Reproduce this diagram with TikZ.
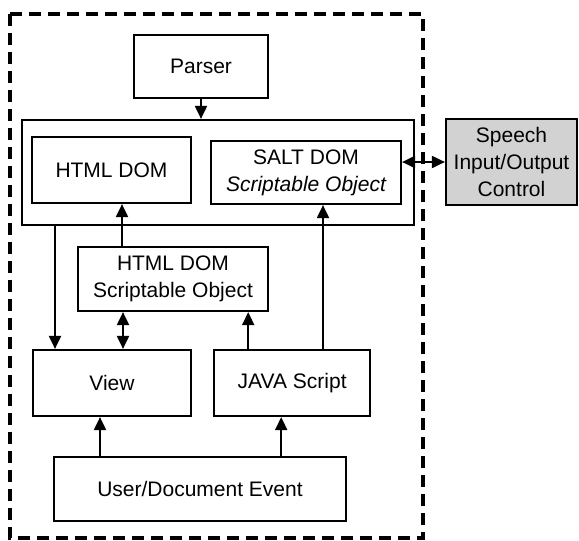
\documentclass[tikz,border=0pt]{standalone}
\usepackage{fontspec}
\setmainfont{Liberation Sans}
\usetikzlibrary{positioning, arrows.meta}
\definecolor{speechGray}{HTML}{D2D2D2}

\begin{document}
\begin{tikzpicture}[
        x=1pt, y=-1pt,
        font=\fontsize{21}{27}\selectfont,
        % Estilos de los nodos
        box/.style={
            rectangle,
            draw,
            line width=2.2pt,
            align=center,
            inner sep=0pt
        },
        % Estilos de las flechas
        arrow/.style={-{Triangle[length=13pt,width=12pt]}, line width=2pt},
        duplex/.style={{Triangle[length=13pt,width=12pt]}-{Triangle[length=13pt,width=12pt]}, line width=2pt},
        frame/.style={dash pattern=on 12pt off 7pt, line width=3.6pt}
    ]
    \useasboundingbox (0,0) rectangle (579,541);

    % -- Marco del navegador --
    \draw[frame] (10,14) rectangle (423,538);

    % -- Parser y contenedor DOM --
    \node[box, minimum width=134pt, minimum height=63pt] (parser) at (201,66.5) {Parser};
    \node[box, minimum width=392pt, minimum height=105pt] (dom) at (218,172.5) {};
    \node[box, minimum width=159pt, minimum height=66pt] (htmldom) at (111.5,170) {HTML DOM};
    \node[box, minimum width=190pt, minimum height=63pt] (saltdom) at (306,172.5) {SALT DOM\\\itshape Scriptable Object};

    \node[box, fill=speechGray, minimum width=131pt, minimum height=86pt] (speech) at (511.5,162) {Speech\\Input/Output\\Control};

    % -- Fila central --
    \node[box, minimum width=190pt, minimum height=64pt] (htmlobj) at (173,279) {HTML DOM\\Scriptable Object};
    \node[box, minimum width=158pt, minimum height=66pt] (view) at (112,383) {View};
    \node[box, minimum width=156pt, minimum height=66pt, right=21pt of view] (java) {JAVA Script};

    % -- Fila inferior --
    \node[box, minimum width=292pt, minimum height=64pt] (event) at (200,489) {User/Document Event};

    % -- Puntos de anclaje de las flechas --
    \coordinate (viewL) at ([xshift=-57pt]view.north);
    \coordinate (viewR) at ([xshift=11pt]view.north);
    \coordinate (htmlIn) at ([xshift=10.5pt]htmldom.south);
    \coordinate (javaL) at ([xshift=-44pt]java.north);
    \coordinate (saltIn) at ([xshift=17pt]saltdom.south);
    \coordinate (viewB) at ([xshift=-12pt]view.south);
    \coordinate (javaB) at ([xshift=-11pt]java.south);

    % -- Conexiones --
    \draw[arrow] (parser.south) -- (parser.south |- dom.north);
    \draw[arrow] (viewL |- dom.south) -- (viewL);
    \draw[arrow] (htmlIn |- htmlobj.north) -- (htmlIn);
    \draw[duplex] (viewR |- htmlobj.south) -- (viewR);
    \draw[arrow] (javaL) -- (javaL |- htmlobj.south);
    \draw[arrow] (saltIn |- java.north) -- (saltIn);
    \draw[arrow] (viewB |- event.north) -- (viewB);
    \draw[arrow] (javaB |- event.north) -- (javaB);
    \draw[duplex] (speech.west -| saltdom.east) -- (speech.west);

\end{tikzpicture}
\end{document}
